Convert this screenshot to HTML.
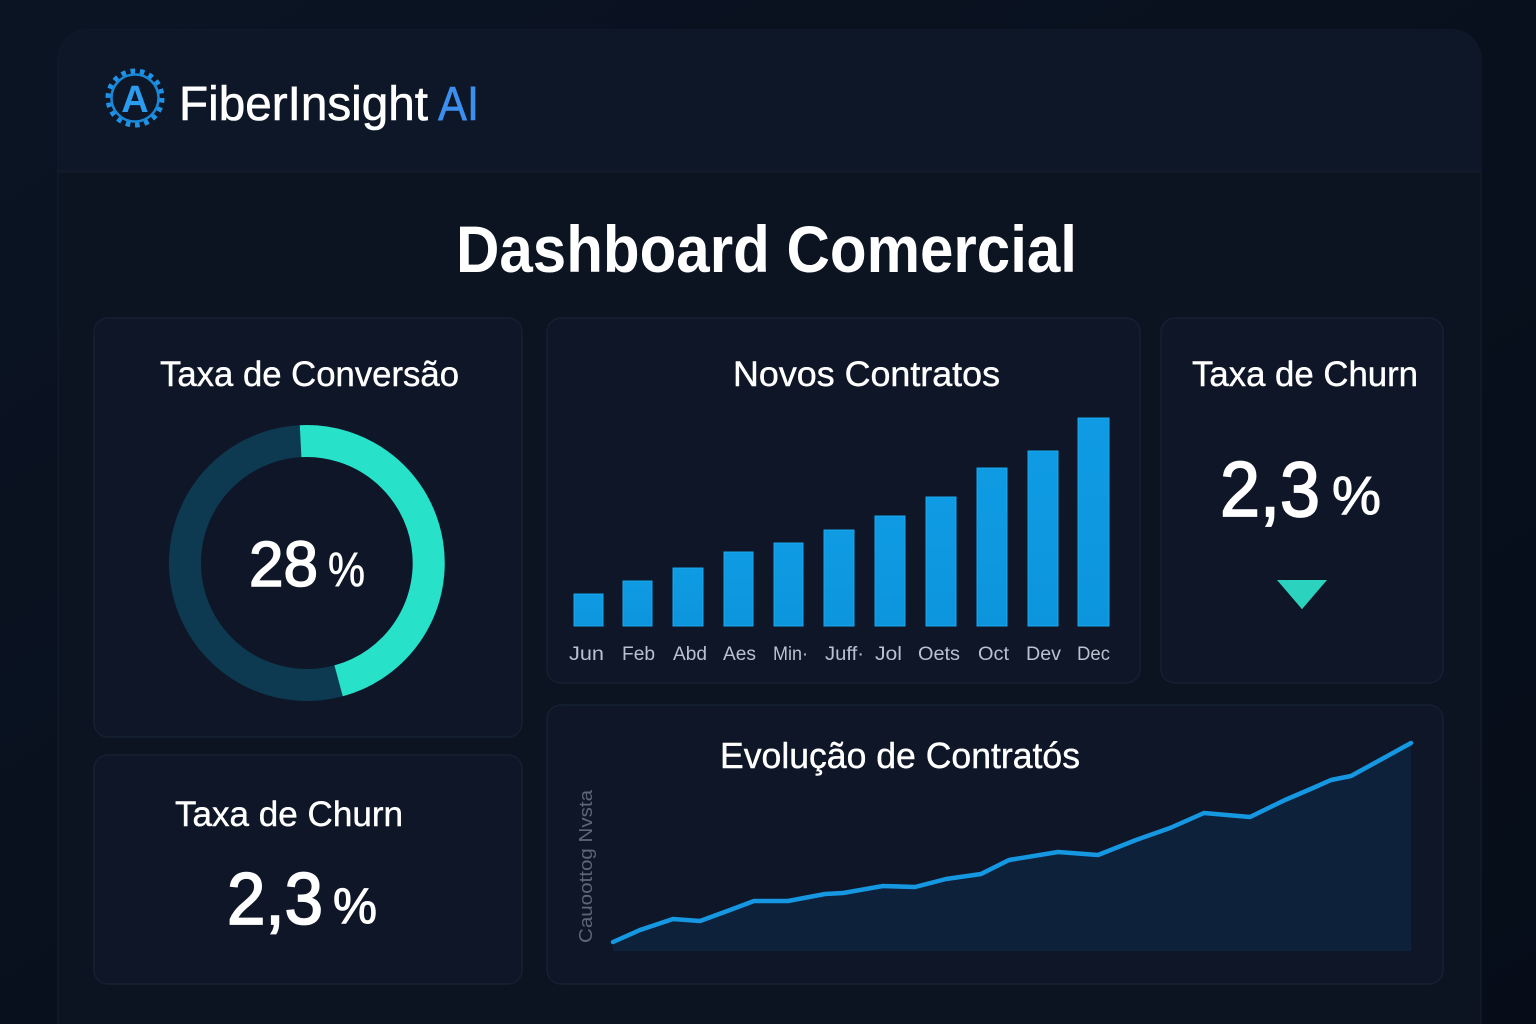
<!DOCTYPE html>
<html><head><meta charset="utf-8"><style>
html,body{margin:0;padding:0;background:#08101d;}
svg{display:block;}
text{font-family:"Liberation Sans",sans-serif;}
</style></head><body>
<svg width="1536" height="1024" viewBox="0 0 1536 1024" xmlns="http://www.w3.org/2000/svg">
<defs>
<linearGradient id="bg" x1="0" y1="0" x2="1" y2="1">
<stop offset="0" stop-color="#0b1423"/><stop offset="1" stop-color="#060d19"/>
</linearGradient>
<linearGradient id="bar" x1="0" y1="0" x2="0" y2="1">
<stop offset="0" stop-color="#0f9be3"/><stop offset="1" stop-color="#0c95dc"/>
</linearGradient>
</defs>
<rect width="1536" height="1024" fill="url(#bg)"/>
<!-- outer panel -->
<rect x="58" y="30" width="1423" height="1040" rx="30" fill="#0c1422" stroke="#121b2b" stroke-width="1.5"/>
<path d="M58 171 V60 a30 30 0 0 1 30 -30 H1451 a30 30 0 0 1 30 30 V171 Z" fill="#0e1727"/>
<line x1="58" y1="171.5" x2="1481" y2="171.5" stroke="#131c2c" stroke-width="2"/>

<!-- logo -->
<circle cx="135" cy="98" r="26.5" fill="none" stroke="#1e92e6" stroke-width="6" stroke-dasharray="4.5 4.75"/>
<circle cx="135" cy="98" r="23.5" fill="none" stroke="#1a86d6" stroke-width="2.5"/>
<text x="135" y="112" text-anchor="middle" font-size="38" font-weight="bold" fill="#2b9cf0">A</text>
<g stroke="#ffffff" stroke-width="0.6">
<text x="179" y="120" font-size="48" fill="#ffffff" textLength="249" lengthAdjust="spacingAndGlyphs">FiberInsight</text>
</g>
<text x="438" y="120" font-size="48" fill="#3d8fef" stroke="#3d8fef" stroke-width="0.6" textLength="41" lengthAdjust="spacingAndGlyphs">AI</text>

<!-- title -->
<text x="456" y="272" font-size="66" font-weight="bold" fill="#ffffff" textLength="621" lengthAdjust="spacingAndGlyphs">Dashboard Comercial</text>

<!-- cards -->
<g fill="#0e1627" stroke="#152032" stroke-width="1.5">
<rect x="94" y="318" width="428" height="419" rx="14"/>
<rect x="547" y="318" width="593" height="365" rx="14"/>
<rect x="1161" y="318" width="282" height="365" rx="14"/>
<rect x="94" y="755" width="428" height="229" rx="14"/>
<rect x="547" y="705" width="896" height="279" rx="14"/>
</g>

<g stroke="#ffffff" stroke-width="0.4">
<text x="160" y="386" font-size="35" fill="#ffffff" textLength="299" lengthAdjust="spacingAndGlyphs">Taxa de Conversão</text>
<text x="733" y="386" font-size="35" fill="#ffffff" textLength="267" lengthAdjust="spacingAndGlyphs">Novos Contratos</text>
<text x="1192" y="386" font-size="35" fill="#ffffff" textLength="226" lengthAdjust="spacingAndGlyphs">Taxa de Churn</text>
<text x="175" y="826" font-size="35" fill="#ffffff" textLength="228" lengthAdjust="spacingAndGlyphs">Taxa de Churn</text>
<text x="720" y="768" font-size="36" fill="#ffffff" textLength="360" lengthAdjust="spacingAndGlyphs">Evolução de Contratós</text>
</g>

<!-- card 1: donut -->
<circle cx="307" cy="563" r="122" fill="none" stroke="#0d3a50" stroke-width="32"/>
<path d="M300.6 441.2 A122 122 0 0 1 338.6 680.8" fill="none" stroke="#27e1c9" stroke-width="32"/>
<g stroke="#ffffff">
<text x="249" y="586" font-size="64" fill="#ffffff" stroke-width="1.6" textLength="69" lengthAdjust="spacingAndGlyphs">28</text>
<text x="328" y="586" font-size="48" fill="#ffffff" stroke-width="0.6" textLength="37" lengthAdjust="spacingAndGlyphs">%</text>
</g>

<!-- card 2: bars -->
<g fill="url(#bar)" stroke="#1aa8ee" stroke-width="1">
<rect x="574" y="594" width="29" height="32"/>
<rect x="623" y="581" width="29" height="45"/>
<rect x="673" y="568" width="30" height="58"/>
<rect x="724" y="552" width="29" height="74"/>
<rect x="774" y="543" width="29" height="83"/>
<rect x="824" y="530" width="30" height="96"/>
<rect x="875" y="516" width="30" height="110"/>
<rect x="926" y="497" width="30" height="129"/>
<rect x="977" y="468" width="30" height="158"/>
<rect x="1028" y="451" width="30" height="175"/>
<rect x="1078" y="418" width="31" height="208"/>
</g>
<g font-size="19" fill="#b9c2cf">
<text x="569" y="660" textLength="35" lengthAdjust="spacingAndGlyphs">Jun</text>
<text x="622" y="660" textLength="33" lengthAdjust="spacingAndGlyphs">Feb</text>
<text x="673" y="660" textLength="34" lengthAdjust="spacingAndGlyphs">Abd</text>
<text x="723" y="660" textLength="33" lengthAdjust="spacingAndGlyphs">Aes</text>
<text x="773" y="660" textLength="35" lengthAdjust="spacingAndGlyphs">Min·</text>
<text x="825" y="660" textLength="39" lengthAdjust="spacingAndGlyphs">Juff·</text>
<text x="875" y="660" textLength="27" lengthAdjust="spacingAndGlyphs">Jol</text>
<text x="918" y="660" textLength="42" lengthAdjust="spacingAndGlyphs">Oets</text>
<text x="978" y="660" textLength="31" lengthAdjust="spacingAndGlyphs">Oct</text>
<text x="1026" y="660" textLength="35" lengthAdjust="spacingAndGlyphs">Dev</text>
<text x="1077" y="660" textLength="33" lengthAdjust="spacingAndGlyphs">Dec</text>
</g>

<!-- card 3: churn right -->
<g stroke="#ffffff">
<text x="1220" y="516" font-size="78" fill="#ffffff" stroke-width="1.8" textLength="100" lengthAdjust="spacingAndGlyphs">2,3</text>
<text x="1332" y="514" font-size="54" fill="#ffffff" stroke-width="1" textLength="49" lengthAdjust="spacingAndGlyphs">%</text>
<!-- card 4 -->
<text x="227" y="924" font-size="73" fill="#ffffff" stroke-width="1.8" textLength="96" lengthAdjust="spacingAndGlyphs">2,3</text>
<text x="333" y="923" font-size="50" fill="#ffffff" stroke-width="1" textLength="44" lengthAdjust="spacingAndGlyphs">%</text>
</g>
<path d="M1277 580 L1327 580 L1303 608 Q1302 610 1301 608 Z" fill="#2bd3be"/>

<!-- card 5: line -->
<text transform="translate(592 943) rotate(-90)" x="0" y="0" font-size="18" fill="#5e6776" textLength="153" lengthAdjust="spacingAndGlyphs">Cauoottog Nvsta</text>
<path d="M613 942 L640 930 L673 919 L700 921 L730 910 L754 901 L788 901 L825 894 L843 893 L883 886 L915 887 L946 879 L981 874 L1009 860 L1058 852 L1098 855 L1136 840 L1170 828 L1204 813 L1250 817 L1285 800 L1313 788 L1331 780 L1351 776 L1411 743 L1411 951 L613 951 Z" fill="#0e213b"/>
<path d="M613 942 L640 930 L673 919 L700 921 L730 910 L754 901 L788 901 L825 894 L843 893 L883 886 L915 887 L946 879 L981 874 L1009 860 L1058 852 L1098 855 L1136 840 L1170 828 L1204 813 L1250 817 L1285 800 L1313 788 L1331 780 L1351 776 L1411 743" fill="none" stroke="#1597e2" stroke-width="4.5" stroke-linejoin="round" stroke-linecap="round"/>
</svg>
</body></html>
